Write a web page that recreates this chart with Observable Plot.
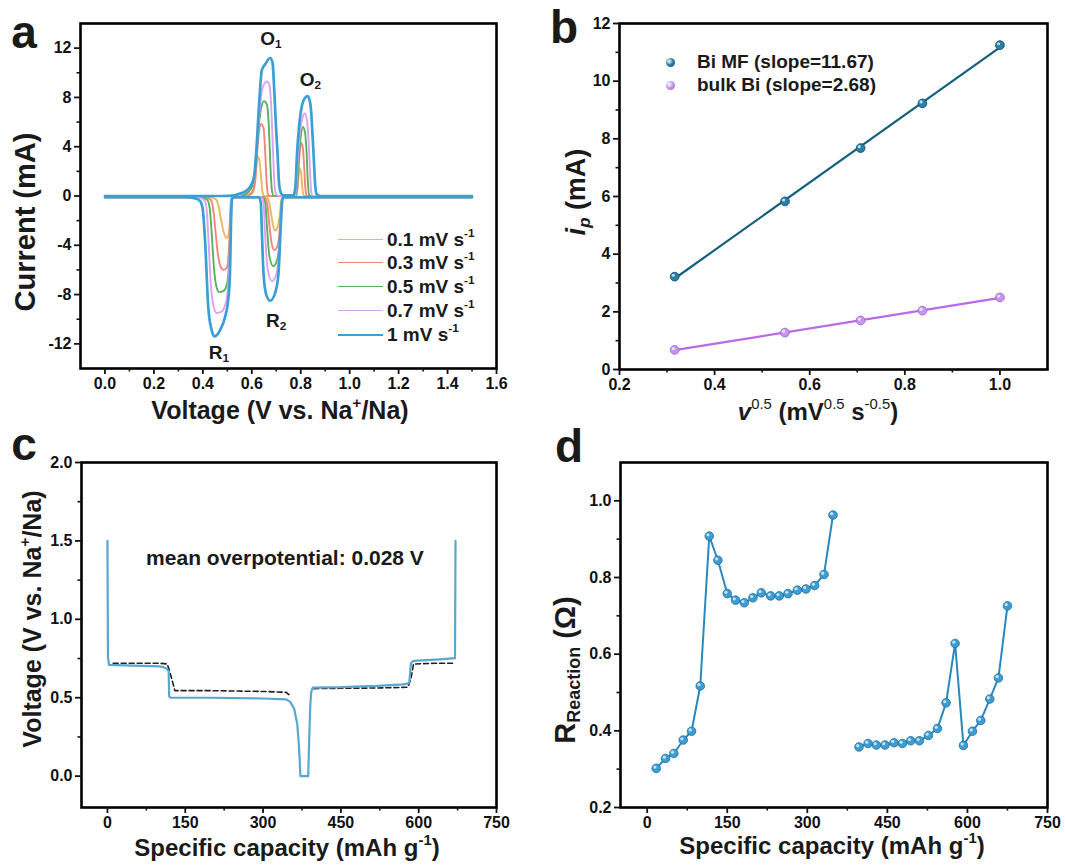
<!DOCTYPE html>
<html><head><meta charset="utf-8">
<script src="https://cdn.jsdelivr.net/npm/d3@7"></script>
<script src="https://cdn.jsdelivr.net/npm/@observablehq/plot@0.6"></script>
<style>
body{margin:0;background:#fff;}
#root{position:relative;width:1065px;height:866px;overflow:hidden;font-family:"Liberation Sans",Arial,sans-serif;font-weight:bold;color:#1a1a1a;background:#fff;}
.t{position:absolute;white-space:nowrap;line-height:1.1;}
.t sup,.t sub{font-size:62%;line-height:0;}
.t sup{vertical-align:0.75em;}
.t sub{vertical-align:-0.3em;}
.sw{position:absolute;height:0;}
</style></head><body><div id="root"></div>
<script>
// ---------------- Panel a: cyclic voltammetry ----------------
const scanRates = ["0.1", "0.3", "0.5", "0.7", "1"];
const cvColors = ["#e8b860", "#f4857a", "#55b35a", "#dba3f0", "#3a9fd5"];
// [voltage, current] cathodic branch (reduction, R1/R2)
const cv01Cat = [[0,-0.1],[0.43,-0.1],[0.455,-0.3],[0.465,-0.9],[0.475,-2.0],[0.486,-3.0],[0.497,-3.4],[0.505,-3.1],[0.511,-1.8],[0.515,-0.3],[0.52,-0.1],[0.66,-0.1],[0.67,-0.4],[0.678,-1.3],[0.687,-2.4],[0.695,-2.8],[0.706,-2.5],[0.715,-1.4],[0.721,-0.3],[0.73,-0.1],[1.5,-0.1]];
const cv03Cat = [[0,-0.1],[0.41,-0.1],[0.432,-0.3],[0.442,-1.0],[0.45,-2.5],[0.46,-4.5],[0.472,-5.7],[0.484,-6.0],[0.498,-5.8],[0.506,-4.5],[0.512,-2.0],[0.516,-0.3],[0.52,-0.1],[0.65,-0.1],[0.662,-0.5],[0.67,-2.0],[0.68,-3.7],[0.692,-4.4],[0.704,-4.1],[0.713,-3.0],[0.719,-1.2],[0.724,-0.2],[0.73,-0.1],[1.5,-0.1]];
const cv05Cat = [[0,-0.1],[0.39,-0.1],[0.418,-0.3],[0.428,-1.0],[0.436,-3.0],[0.446,-6.0],[0.456,-7.4],[0.467,-7.8],[0.485,-7.7],[0.50,-7.0],[0.508,-5.0],[0.513,-2.0],[0.517,-0.3],[0.52,-0.1],[0.645,-0.1],[0.655,-0.6],[0.662,-2.5],[0.672,-4.9],[0.688,-5.7],[0.702,-5.3],[0.712,-4.0],[0.719,-1.6],[0.724,-0.3],[0.73,-0.1],[1.5,-0.1]];
const cv07Cat = [[0,-0.1],[0.38,-0.1],[0.405,-0.3],[0.415,-1.0],[0.423,-3.5],[0.432,-7.0],[0.444,-9.0],[0.456,-9.5],[0.475,-9.4],[0.495,-8.6],[0.506,-6.5],[0.512,-2.5],[0.516,-0.3],[0.52,-0.1],[0.64,-0.1],[0.648,-0.6],[0.654,-3.0],[0.664,-5.8],[0.682,-6.9],[0.698,-6.5],[0.71,-5.0],[0.718,-2.0],[0.724,-0.3],[0.73,-0.1],[1.5,-0.1]];
const cv1Cat = [[0,-0.1],[0.33,-0.1],[0.37,-0.2],[0.388,-0.4],[0.399,-1.0],[0.409,-3.6],[0.422,-9.0],[0.436,-10.9],[0.447,-11.4],[0.47,-10.9],[0.491,-9.8],[0.504,-8.4],[0.511,-6.2],[0.515,-2.2],[0.519,-0.3],[0.525,-0.1],[0.63,-0.1],[0.637,-0.6],[0.641,-2.8],[0.648,-6.3],[0.659,-8.0],[0.675,-8.5],[0.695,-7.9],[0.709,-6.3],[0.719,-2.2],[0.725,-0.3],[0.73,-0.1],[1.5,-0.1]];
// [voltage, current] anodic branch (oxidation, O1/O2)
const cv01An = [[0,0],[0.585,0],[0.605,0.3],[0.614,1.2],[0.62,2.6],[0.624,3.2],[0.632,2.8],[0.638,1.5],[0.644,0.3],[0.65,0],[0.782,0],[0.788,0.8],[0.795,2.3],[0.802,1.8],[0.807,0.6],[0.812,0],[1.5,0]];
const cv03An = [[0,0],[0.57,0],[0.60,0.3],[0.613,1.2],[0.622,3.5],[0.63,5.3],[0.638,5.85],[0.648,5.5],[0.655,3.5],[0.661,1.0],[0.667,0.1],[0.675,0],[0.78,0],[0.786,0.6],[0.792,2.5],[0.801,4.3],[0.808,4.0],[0.814,2.4],[0.819,0.6],[0.824,0],[1.5,0]];
const cv05An = [[0,0],[0.55,0],[0.585,0.3],[0.605,1.0],[0.615,2.5],[0.625,5.0],[0.637,7.0],[0.65,7.7],[0.662,7.4],[0.67,5.5],[0.676,2.5],[0.682,0.5],[0.69,0],[0.778,0],[0.785,0.8],[0.791,2.8],[0.80,4.8],[0.809,5.6],[0.817,5.2],[0.824,3.5],[0.829,1.2],[0.834,0.1],[0.84,0],[1.5,0]];
const cv07An = [[0,0],[0.53,0],[0.57,0.3],[0.595,0.8],[0.61,1.8],[0.62,4.0],[0.63,6.5],[0.642,8.6],[0.661,9.3],[0.672,9.0],[0.68,7.0],[0.686,4.0],[0.692,1.2],[0.698,0.2],[0.71,0],[0.775,0],[0.782,0.8],[0.788,3.0],[0.797,5.2],[0.808,6.4],[0.816,6.7],[0.825,6.2],[0.832,4.5],[0.838,2.0],[0.843,0.3],[0.85,0],[1.5,0]];
const cv1An = [[0,0],[0.48,0],[0.53,0.05],[0.552,0.2],[0.575,0.4],[0.595,0.8],[0.609,1.5],[0.618,3.5],[0.63,7.5],[0.641,10.2],[0.655,10.7],[0.675,11.2],[0.685,10.8],[0.691,8.9],[0.698,6.0],[0.705,3.5],[0.712,0.9],[0.72,0.2],[0.73,0.05],[0.77,0.05],[0.778,0.7],[0.785,3.5],[0.793,5.6],[0.801,6.9],[0.815,7.9],[0.828,8.1],[0.836,7.8],[0.842,7.0],[0.848,5.0],[0.853,3.2],[0.858,1.2],[0.864,0.2],[0.88,0],[1.5,0]];
const cvXMajor = [0,0.2,0.4,0.6,0.8,1.0,1.2,1.4,1.6];
const cvXMinor = [0.1,0.3,0.5,0.7,0.9,1.1,1.3,1.5];
const cvYMajor = [-12,-8,-4,0,4,8,12];
const cvYMinor = [-10,-6,-2,2,6,10];

// ---------------- Panel b: peak current vs sqrt(scan rate) ----------------
const sqrtScan = [0.316, 0.548, 0.707, 0.837, 1.0];
const ipBiMF = [3.22, 5.83, 7.68, 9.23, 11.25];
const ipBulk = [0.68, 1.28, 1.70, 2.04, 2.50];
const bLegend = ["Bi MF (slope=11.67)", "bulk Bi (slope=2.68)"];
const bXMajor = [0.2,0.4,0.6,0.8,1.0];
const bXMinor = [0.3,0.5,0.7,0.9];
const bYMajor = [0,2,4,6,8,10,12];
const bYMinor = [1,3,5,7,9,11];

// ---------------- Panel c: GITT profile ----------------
const gittCap = [0,1,3,50,100,108,114,118,119,122,200,300,344,352,360,366,369,371,372,387,389,391,393,396,450,520,570,579,582,585,590,640,670,671];
const gittV   = [1.5,0.76,0.71,0.705,0.70,0.695,0.685,0.67,0.51,0.50,0.50,0.495,0.49,0.475,0.43,0.33,0.2,0.08,0.0,0.0,0.24,0.45,0.54,0.565,0.567,0.575,0.585,0.59,0.60,0.72,0.735,0.745,0.752,1.5];
const ocvDisCap = [11,50,100,115,119,124,130,200,300,344,350];
const ocvDisV   = [0.72,0.72,0.72,0.715,0.68,0.62,0.545,0.545,0.54,0.535,0.52];
const ocvChaCap = [398,450,520,579,585,590,630,666];
const ocvChaV   = [0.558,0.56,0.562,0.567,0.62,0.715,0.72,0.72];
const cXMajor = [0,150,300,450,600,750];
const cXMinor = [75,225,375,525,675];
const cYMajor = [0,0.5,1.0,1.5,2.0];
const cYMinor = [0.25,0.75,1.25,1.75];

// ---------------- Panel d: reaction resistance ----------------
const rCapDis = [16.9,34.4,50,67.5,83.1,99.4,116.3,132.5,150,165.6,181.9,198.1,213.8,231.3,247.5,263.8,281.3,297.5,313.8,331.3,348.1];
const rDis    = [0.302,0.328,0.341,0.376,0.399,0.517,0.908,0.845,0.758,0.741,0.734,0.747,0.760,0.752,0.752,0.758,0.767,0.770,0.779,0.808,0.963];
const rCapCha = [396.9,413.8,429.4,445.6,462.5,478.1,493.8,510,526.9,543.8,560,576.9,592.5,609.4,625,641.9,658.1,675];
const rCha    = [0.358,0.367,0.363,0.363,0.369,0.367,0.374,0.374,0.388,0.406,0.473,0.628,0.362,0.399,0.427,0.483,0.538,0.726];
const dXMajor = [0,150,300,450,600,750];
const dXMinor = [75,225,375,525,675];
const dYMajor = [0.2,0.4,0.6,0.8,1.0];
const dYMinor = [0.3,0.5,0.7,0.9];

// ---------------- helpers ----------------
const root = document.getElementById("root");
function overlay(html, x, y, o = {}) {
  const d = document.createElement("div");
  d.className = "t";
  d.innerHTML = html;
  d.style.left = x + "px"; d.style.top = y + "px";
  d.style.fontSize = (o.size || 16) + "px";
  d.style.color = o.color || "#1a1a1a";
  const tx = o.anchor === "start" ? "0" : o.anchor === "end" ? "-100%" : "-50%";
  d.style.transform = `translate(${tx},-50%)` + (o.rotate ? ` rotate(${o.rotate}deg)` : "");
  root.append(d);
  return d;
}
const ink = "#111111";
function panel(box, frame, xs, ys, marks) {
  const [L, T, W, H] = box, [fl, ft, fr, fb] = frame;
  const p = Plot.plot({
    width: W, height: H,
    marginLeft: fl - L, marginTop: ft - T, marginRight: L + W - fr, marginBottom: T + H - fb,
    x: {domain: xs.domain, label: null},
    y: {domain: ys.domain, label: null},
    style: {fontFamily: '"Liberation Sans", Arial, sans-serif', fontSize: "16px", fontWeight: "bold", color: ink, background: "transparent", overflow: "visible"},
    marks: [
      Plot.frame({stroke: "#000", strokeWidth: 2.6}),
      ...marks,
      Plot.axisX({ticks: xs.minor, tickSize: 3.5, strokeWidth: 1.6, tickFormat: () => "", label: null}),
      Plot.axisX({ticks: xs.major, tickSize: 6, strokeWidth: 1.8, tickPadding: 3, tickFormat: xs.fmt, label: null}),
      Plot.axisY({ticks: ys.minor, tickSize: 3.5, strokeWidth: 1.6, tickFormat: () => "", label: null}),
      Plot.axisY({ticks: ys.major, tickSize: 6, strokeWidth: 1.8, tickPadding: 3, tickFormat: ys.fmt, label: null})
    ]
  });
  p.style.position = "absolute"; p.style.left = L + "px"; p.style.top = T + "px";
  root.append(p);
  const sx = p.scale("x"), sy = p.scale("y");
  return {px: v => L + sx.apply(v), py: v => T + sy.apply(v)};
}

// ---------------- Panel a ----------------
const cvCat = [cv01Cat, cv03Cat, cv05Cat, cv07Cat, cv1Cat];
const cvAn = [cv01An, cv03An, cv05An, cv07An, cv1An];
const cvMarks = [];
scanRates.forEach((r, i) => {
  const rows = [
    ...cvCat[i].map(([V, I]) => ({V, I, b: "cat"})),
    ...cvAn[i].map(([V, I]) => ({V, I, b: "an"}))
  ];
  cvMarks.push(Plot.line(rows, {x: "V", y: "I", z: "b", stroke: cvColors[i], strokeWidth: i === 4 ? 2.7 : 1.9, curve: "monotone-x"}));
});
const A = panel([0, 0, 540, 430], [80, 23, 496, 368],
  {domain: [-0.1, 1.6], major: cvXMajor, minor: cvXMinor, fmt: d => d.toFixed(1)},
  {domain: [-14, 14], major: cvYMajor, minor: cvYMinor, fmt: d => String(d)},
  cvMarks);
overlay("O<sub>1</sub>", A.px(0.68), A.py(12.7), {size: 19});
overlay("O<sub>2</sub>", A.px(0.842), A.py(9.4), {size: 19});
overlay("R<sub>1</sub>", A.px(0.468), A.py(-12.8), {size: 19});
overlay("R<sub>2</sub>", A.px(0.702), A.py(-10.2), {size: 19});
const legRows = [240, 263, 287, 311, 335];
scanRates.forEach((r, i) => {
  const s = document.createElement("div");
  s.className = "sw";
  s.style.left = "338px"; s.style.width = "45px"; s.style.top = (legRows[i] - (i === 4 ? 1.3 : 0.9)) + "px";
  s.style.borderTop = `${i === 4 ? 2.7 : 1.9}px solid ${cvColors[i]}`;
  root.append(s);
  overlay(`${r} mV s<sup>-1</sup>`, 387, legRows[i], {size: 19, anchor: "start"});
});
overlay("Voltage (V vs. Na<sup>+</sup>/Na)", 280, 411, {size: 25});
overlay("Current (mA)", 26, 222, {size: 29, rotate: -90});
overlay("a", 24, 32, {size: 46});

// ---------------- Panel b ----------------
const bRows = [
  ...sqrtScan.map((x, i) => ({x, y: ipBiMF[i], s: bLegend[0]})),
  ...sqrtScan.map((x, i) => ({x, y: ipBulk[i], s: bLegend[1]}))
];
const bLine = ["#15607c", "#b86ae8"], bDot = ["#2a80a8", "#c597ec"], bEdge = ["#0f4a63", "#9a62c8"];
const bMarks = [];
bLegend.forEach((s, i) => {
  const data = bRows.filter(d => d.s === s);
  bMarks.push(Plot.linearRegressionY(data, {x: "x", y: "y", ci: 0, stroke: bLine[i], strokeWidth: 2.2}));
  bMarks.push(Plot.dot(data, {x: "x", y: "y", r: 4.4, fill: bDot[i], stroke: bEdge[i], strokeWidth: 0.8}));
  bMarks.push(Plot.dot(data, {x: "x", y: "y", r: 1.6, dx: -1.4, dy: -1.4, fill: "white", fillOpacity: 0.7}));
});
const B = panel([530, 0, 535, 430], [619, 23, 1047, 369],
  {domain: [0.2, 1.1], major: bXMajor, minor: bXMinor, fmt: d => d.toFixed(1)},
  {domain: [0, 12], major: bYMajor, minor: bYMinor, fmt: d => String(d)},
  bMarks);
[62, 85].forEach((y, i) => {
  const m = document.createElement("div");
  m.style.cssText = `position:absolute;left:${670 - 4.5}px;top:${y - 4.5}px;width:9px;height:9px;border-radius:50%;background:radial-gradient(circle at 35% 35%, #fff 0, ${bDot[i]} 45%, ${bEdge[i]} 100%);`;
  root.append(m);
  overlay(bLegend[i], 697, y, {size: 19, anchor: "start"});
});
overlay('<i>v</i><sup style="font-weight:normal">0.5</sup> (mV<sup style="font-weight:normal">0.5</sup> s<sup style="font-weight:normal">-0.5</sup>)', 818, 412, {size: 24});
overlay("<i>i<sub>p</sub></i> (mA)", 577, 192, {size: 27, rotate: -90});
overlay("b", 564, 27, {size: 46});

// ---------------- Panel c ----------------
const gittRows = gittCap.map((c, i) => ({c, v: gittV[i]}));
const ocvRows = [
  ...ocvDisCap.map((c, i) => ({c, v: ocvDisV[i], s: "dis"})),
  ...ocvChaCap.map((c, i) => ({c, v: ocvChaV[i], s: "cha"}))
];
const C = panel([0, 430, 540, 436], [81, 462, 496, 807],
  {domain: [-50, 750], major: cXMajor, minor: cXMinor, fmt: d => String(d)},
  {domain: [-0.2, 2.0], major: cYMajor, minor: cYMinor, fmt: d => d.toFixed(1)},
  [
    Plot.line(ocvRows, {x: "c", y: "v", z: "s", stroke: "#222", strokeWidth: 1.6, strokeDasharray: "5,3"}),
    Plot.line(gittRows, {x: "c", y: "v", stroke: "#5ba6d0", strokeWidth: 2.2})
  ]);
overlay("mean overpotential: 0.028 V", 285, 558, {size: 21});
overlay("Specific capacity (mAh g<sup>-1</sup>)", 287, 848, {size: 24});
overlay("Voltage (V vs. Na<sup>+</sup>/Na)", 33, 619, {size: 25, rotate: -90});
overlay("c", 24, 444, {size: 46});

// ---------------- Panel d ----------------
const rRows = [
  ...rCapDis.map((c, i) => ({c, r: rDis[i], s: "dis"})),
  ...rCapCha.map((c, i) => ({c, r: rCha[i], s: "cha"}))
];
const D = panel([530, 430, 535, 436], [620, 462, 1047, 807],
  {domain: [-50, 750], major: dXMajor, minor: dXMinor, fmt: d => String(d)},
  {domain: [0.2, 1.1], major: dYMajor, minor: dYMinor, fmt: d => d.toFixed(1)},
  [
    Plot.line(rRows, {x: "c", y: "r", z: "s", stroke: "#2a88bf", strokeWidth: 2}),
    Plot.dot(rRows, {x: "c", y: "r", r: 4.3, fill: "#3d9dd2", stroke: "#1f6f9c", strokeWidth: 0.8}),
    Plot.dot(rRows, {x: "c", y: "r", r: 1.6, dx: -1.3, dy: -1.3, fill: "white", fillOpacity: 0.7})
  ]);
overlay("Specific capacity (mAh g<sup>-1</sup>)", 832, 846, {size: 24});
overlay("R<sub>Reaction</sub> (Ω)", 566, 670, {size: 29, rotate: -90});
overlay("d", 569, 446, {size: 46});
</script></body></html>
